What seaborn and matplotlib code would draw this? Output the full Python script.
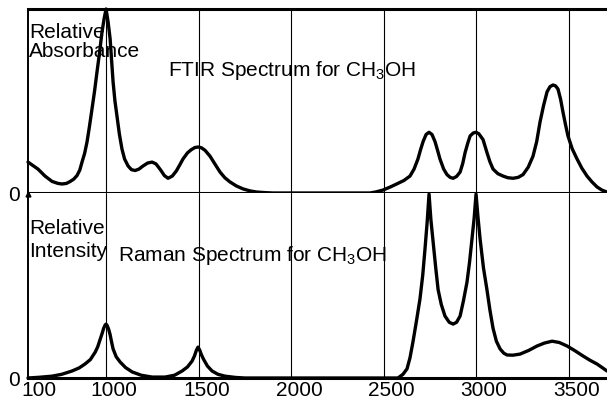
import numpy as np
import pandas as pd
import matplotlib
matplotlib.use("Agg")
import matplotlib.pyplot as plt
import matplotlib.transforms as mtransforms
import seaborn as sns

# ---------------- data ----------------
ftir_wavenumber = [578, 632, 670, 708, 740, 762, 785, 805, 825, 843, 858, 870, 884, 897,
                   910, 924, 938, 951, 965, 978, 990, 1000, 1011, 1022, 1030, 1038, 1048,
                   1059, 1072, 1086, 1100, 1119, 1137, 1157, 1178, 1200, 1225, 1249,
                   1270, 1295, 1315, 1335, 1358, 1380, 1398, 1416, 1440, 1460, 1480,
                   1497, 1515, 1535, 1562, 1590, 1616, 1642, 1670, 1705, 1741, 1780,
                   1816, 1860, 1903, 2427, 2460, 2497, 2535, 2573, 2610, 2643, 2665,
                   2686, 2700, 2714, 2730, 2746, 2762, 2778, 2792, 2805, 2825, 2843,
                   2860, 2876, 2895, 2914, 2928, 2941, 2955, 2968, 2985, 3000, 3015,
                   3038, 3059, 3075, 3092, 3118, 3146, 3172, 3200, 3228, 3254, 3282,
                   3308, 3328, 3346, 3365, 3384, 3400, 3416, 3430, 3443, 3457, 3470,
                   3484, 3497, 3520, 3546, 3572, 3600, 3627, 3654, 3680, 3708]
ftir_absorbance = [0.168, 0.13, 0.092, 0.063, 0.052, 0.049, 0.052, 0.062, 0.075, 0.095,
                   0.125, 0.168, 0.215, 0.277, 0.36, 0.457, 0.555, 0.658, 0.765, 0.875,
                   0.95, 1.0, 0.93, 0.837, 0.72, 0.603, 0.5, 0.418, 0.32, 0.239, 0.185,
                   0.147, 0.127, 0.122, 0.13, 0.147, 0.163, 0.168, 0.158, 0.125, 0.095,
                   0.08, 0.092, 0.12, 0.152, 0.185, 0.218, 0.235, 0.247, 0.25, 0.246,
                   0.232, 0.2, 0.155, 0.114, 0.083, 0.06, 0.038, 0.022, 0.011, 0.005,
                   0.002, 0.0, 0.0, 0.006, 0.016, 0.032, 0.05, 0.068, 0.092, 0.13,
                   0.185, 0.235, 0.28, 0.318, 0.33, 0.318, 0.28, 0.232, 0.185, 0.13,
                   0.10, 0.085, 0.08, 0.09, 0.114, 0.16, 0.22, 0.27, 0.31, 0.326, 0.33,
                   0.322, 0.29, 0.22, 0.17, 0.13, 0.105, 0.092, 0.083, 0.08, 0.085,
                   0.10, 0.14, 0.2, 0.28, 0.386, 0.475, 0.55, 0.578, 0.587, 0.582, 0.565,
                   0.51, 0.44, 0.37, 0.31, 0.24, 0.185, 0.135, 0.092, 0.06, 0.033,
                   0.016, 0.005]

raman_wavenumber = [578, 640, 708, 760, 816, 855, 886, 915, 941, 955, 968, 978, 987,
                    995, 1000, 1006, 1014, 1022, 1030, 1038, 1055, 1076, 1105, 1141,
                    1190, 1249, 1319, 1370, 1411, 1440, 1465, 1478, 1488, 1497, 1506,
                    1516, 1528, 1548, 1573, 1605, 1643, 1700, 1751, 2578, 2605, 2627,
                    2643, 2659, 2678, 2697, 2712, 2724, 2736, 2746, 2756, 2768, 2782,
                    2795, 2812, 2832, 2855, 2876, 2895, 2914, 2932, 2951, 2965, 2978,
                    2990, 3000, 3010, 3022, 3040, 3059, 3075, 3092, 3110, 3130, 3150,
                    3168, 3200, 3238, 3285, 3330, 3370, 3411, 3450, 3492, 3535, 3578,
                    3615, 3654, 3680, 3708]
raman_intensity = [0.0, 0.004, 0.01, 0.02, 0.038, 0.055, 0.076, 0.1, 0.14, 0.17, 0.21,
                   0.24, 0.27, 0.288, 0.293, 0.285, 0.265, 0.235, 0.195, 0.158, 0.115,
                   0.087, 0.057, 0.033, 0.015, 0.005, 0.005, 0.015, 0.038, 0.06, 0.092,
                   0.12, 0.15, 0.168, 0.152, 0.125, 0.1, 0.065, 0.038, 0.02, 0.01, 0.003,
                   0.0, 0.0, 0.02, 0.05, 0.11, 0.196, 0.31, 0.43, 0.56, 0.70, 0.85, 1.0,
                   0.86, 0.74, 0.6, 0.48, 0.4, 0.337, 0.303, 0.293, 0.303, 0.337, 0.42,
                   0.52, 0.63, 0.755, 0.87, 1.0, 0.88, 0.755, 0.6, 0.48, 0.37, 0.27, 0.2,
                   0.158, 0.135, 0.125, 0.124, 0.13, 0.15, 0.174, 0.19, 0.2, 0.193, 0.174,
                   0.148, 0.12, 0.097, 0.076, 0.058, 0.038]

grid_positions = [1000, 1500, 2000, 2500, 3000, 3500]
x_tick_positions = [592, 1000, 1500, 2000, 2500, 3000, 3500]
x_tick_labels = ["100", "1000", "1500", "2000", "2500", "3000", "3500"]
x_limits = (578, 3708)

ftir_df = pd.DataFrame({"wavenumber": ftir_wavenumber, "value": ftir_absorbance})
raman_df = pd.DataFrame({"wavenumber": raman_wavenumber, "value": raman_intensity})

# ---------------- styling ----------------
sns.set_theme(style="white")
plt.rcParams["font.family"] = ["Liberation Sans", "DejaVu Sans"]
plt.rcParams["mathtext.fontset"] = "custom"
plt.rcParams["mathtext.rm"] = "Liberation Sans"
plt.rcParams["mathtext.it"] = "Liberation Sans:italic"
plt.rcParams["mathtext.bf"] = "Liberation Sans:bold"

W, H = 607, 402
fig = plt.figure(figsize=(W / 100, H / 100), dpi=100)
fig.patch.set_facecolor("white")

left_px, right_px = 28, 607
top_px, mid_px, bot_px = 10, 194, 379
ax1 = fig.add_axes([left_px / W, (H - mid_px) / H, (right_px - left_px) / W, (mid_px - top_px) / H])
ax2 = fig.add_axes([left_px / W, (H - bot_px) / H, (right_px - left_px) / W, (bot_px - mid_px) / H])

FS = 15
for ax, df, ytop in ((ax1, ftir_df, 1.0), (ax2, raman_df, (bot_px - mid_px) / (bot_px - mid_px - 1))):
    ax.set_facecolor("white")
    ax.set_xlim(*x_limits)
    ax.set_ylim(0, ytop)
    for gx in grid_positions:
        ax.axvline(gx, color="black", lw=0.8, zorder=1)
    sns.lineplot(data=df, x="wavenumber", y="value", ax=ax, color="black",
                 linewidth=2.4, estimator=None, sort=False, legend=False, zorder=3)
    for line in ax.lines:
        line.set_clip_on(False)
        line.set_solid_joinstyle("round")
    ax.set_xlabel("")
    ax.set_ylabel("")
    ax.grid(False)
    ax.spines["right"].set_visible(False)
    ax.spines["left"].set_linewidth(1.4)
    ax.spines["left"].set_color("black")
    ax.spines["bottom"].set_linewidth(2.2)
    ax.spines["bottom"].set_color("black")
    ax.set_yticks([0])
    ax.set_yticklabels(["0"])
    ax.tick_params(axis="both", length=0, labelsize=FS, colors="black")
    ax.tick_params(axis="y", pad=6)

ax1.spines["top"].set_linewidth(2.2)
ax1.spines["top"].set_color("black")
ax1.set_xticks([])
ax2.spines["top"].set_visible(False)

ax2.set_xticks(x_tick_positions)
ax2.set_xticklabels(x_tick_labels)
ax2.tick_params(axis="x", pad=1.5)
offset = mtransforms.ScaledTranslation(8 / 100, 0, fig.dpi_scale_trans)
for lab in ax2.get_xticklabels():
    lab.set_transform(lab.get_transform() + offset)

# small arrow mark at the top of the lower left axis
ax2.plot([x_limits[0]], [1.0], marker="^", color="black", markersize=3.5, clip_on=False, zorder=5)


def ftext(x, y, s):
    fig.text(x / W, 1 - y / H, s, fontsize=FS, color="black", ha="left", va="baseline")


ftext(29, 38, "Relative")
ftext(29, 57, "Absorbance")
ftext(168, 76, r"FTIR Spectrum for CH$_3$OH")
ftext(29, 234, "Relative")
ftext(29, 257, "Intensity")
ftext(118, 261, r"Raman Spectrum for CH$_3$OH")

fig.savefig("out.png", dpi=100, facecolor="white")
